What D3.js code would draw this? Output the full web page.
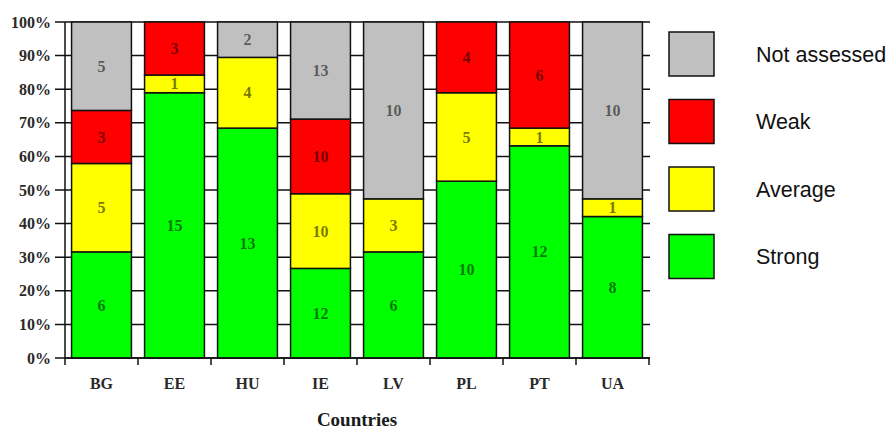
<!DOCTYPE html>
<html>
<head>
<meta charset="utf-8">
<script src="https://cdn.jsdelivr.net/npm/d3@7"></script>
<style>
  html, body { margin: 0; padding: 0; background: #fff; }
  svg { display: block; }
</style>
</head>
<body>
<svg id="chart" width="892" height="429"></svg>
<script>
const countries = ["BG", "EE", "HU", "IE", "LV", "PL", "PT", "UA"];
const seriesNames = ["Strong", "Average", "Weak", "Not assessed"];
const strong      = [6, 15, 13, 12, 6, 10, 12, 8];
const average     = [5, 1, 4, 10, 3, 5, 1, 1];
const weak        = [3, 3, 0, 10, 0, 4, 6, 0];
const notAssessed = [5, 0, 2, 13, 10, 0, 0, 10];
const colors = ["#00ff00", "#ffff00", "#ff0000", "#c0c0c0"];
const yTicks = [0, 0.1, 0.2, 0.3, 0.4, 0.5, 0.6, 0.7, 0.8, 0.9, 1.0];
const xTitle = "Countries";

const svg = d3.select("#chart");
const plotLeft = 65, plotRight = 649, plotTop = 22, plotBottom = 358;

const rows = countries.map((c, i) => {
  const total = strong[i] + average[i] + weak[i] + notAssessed[i];
  return { country: c, total,
    "Strong": strong[i], "Average": average[i], "Weak": weak[i], "Not assessed": notAssessed[i] };
});

const x = d3.scaleBand().domain(countries).range([plotLeft, plotRight])
  .paddingInner(0.18).paddingOuter(0.09);
const y = d3.scaleLinear().domain([0, 1]).range([plotBottom, plotTop]);

const stack = d3.stack().keys(seriesNames)
  .value((d, k) => d[k] / d.total);
const stacked = stack(rows);

// gridlines (behind bars)
svg.append("g").selectAll("line").data(yTicks).join("line")
  .attr("x1", plotLeft - 10).attr("x2", plotRight + 1)
  .attr("y1", d => y(d)).attr("y2", d => y(d))
  .attr("stroke", "#111").attr("stroke-width", 1.5);

// left axis line
svg.append("line").attr("x1", plotLeft).attr("x2", plotLeft)
  .attr("y1", plotTop).attr("y2", plotBottom)
  .attr("stroke", "#111").attr("stroke-width", 1.5);

// tick labels
svg.append("g").selectAll("text").data(yTicks).join("text")
  .attr("x", 51).attr("y", d => y(d)).attr("dy", "0.35em")
  .attr("text-anchor", "end")
  .attr("font-family", "'Liberation Serif', serif").attr("font-weight", "bold")
  .attr("font-size", 16).attr("fill", "#2a2a2a")
  .text(d => Math.round(d * 100) + "%");

// bars
const groups = svg.append("g").selectAll("g").data(stacked).join("g")
  .attr("fill", (d, i) => colors[i]);
groups.selectAll("rect").data(d => d).join("rect")
  .attr("x", d => x(d.data.country))
  .attr("width", x.bandwidth())
  .attr("y", d => y(d[1]))
  .attr("height", d => y(d[0]) - y(d[1]))
  .attr("stroke", "#111").attr("stroke-width", 1.5)
  .style("display", d => d[1] - d[0] > 0 ? null : "none");

// value labels
stacked.forEach((s) => {
  svg.append("g").selectAll("text").data(s.filter(d => d.data[s.key] > 0)).join("text")
    .attr("x", d => x(d.data.country) + x.bandwidth() / 2)
    .attr("y", d => (y(d[0]) + y(d[1])) / 2)
    .attr("dy", "0.35em")
    .attr("text-anchor", "middle")
    .attr("font-family", "'Liberation Serif', serif").attr("font-weight", "bold")
    .attr("font-size", 16).attr("fill", "#000").attr("fill-opacity", 0.55)
    .text(d => d.data[s.key]);
});

// x axis
svg.append("line").attr("x1", plotLeft).attr("x2", plotRight + 1)
  .attr("y1", plotBottom).attr("y2", plotBottom)
  .attr("stroke", "#111").attr("stroke-width", 1.5);
const bounds = countries.map(c => x(c) - x.step() * x.paddingInner() / 2);
bounds.push(plotRight);
svg.append("g").selectAll("line").data(bounds).join("line")
  .attr("x1", d => d).attr("x2", d => d)
  .attr("y1", plotBottom).attr("y2", plotBottom + 7)
  .attr("stroke", "#111").attr("stroke-width", 1.5);
svg.append("g").selectAll("text").data(countries).join("text")
  .attr("x", d => x(d) + x.bandwidth() / 2)
  .attr("y", 389)
  .attr("text-anchor", "middle")
  .attr("font-family", "'Liberation Serif', serif").attr("font-weight", "bold")
  .attr("font-size", 16).attr("fill", "#2a2a2a")
  .text(d => d);
svg.append("text")
  .attr("x", (plotLeft + plotRight) / 2).attr("y", 426)
  .attr("text-anchor", "middle")
  .attr("font-family", "'Liberation Serif', serif").attr("font-weight", "bold")
  .attr("font-size", 19).attr("fill", "#1a1a1a")
  .text(xTitle);

// legend
const legendOrder = ["Not assessed", "Weak", "Average", "Strong"];
const lg = svg.append("g").selectAll("g").data(legendOrder).join("g")
  .attr("transform", (d, i) => `translate(669,${32 + i * 67.5})`);
lg.append("rect").attr("width", 45).attr("height", 44)
  .attr("fill", d => colors[seriesNames.indexOf(d)])
  .attr("stroke", "#111").attr("stroke-width", 1.5);
lg.append("text").attr("x", 87).attr("y", 22).attr("dy", "0.35em")
  .attr("font-family", "'Liberation Sans', Arial, sans-serif")
  .attr("font-size", 21.5).attr("fill", "#111")
  .text(d => d);
</script>
</body>
</html>
